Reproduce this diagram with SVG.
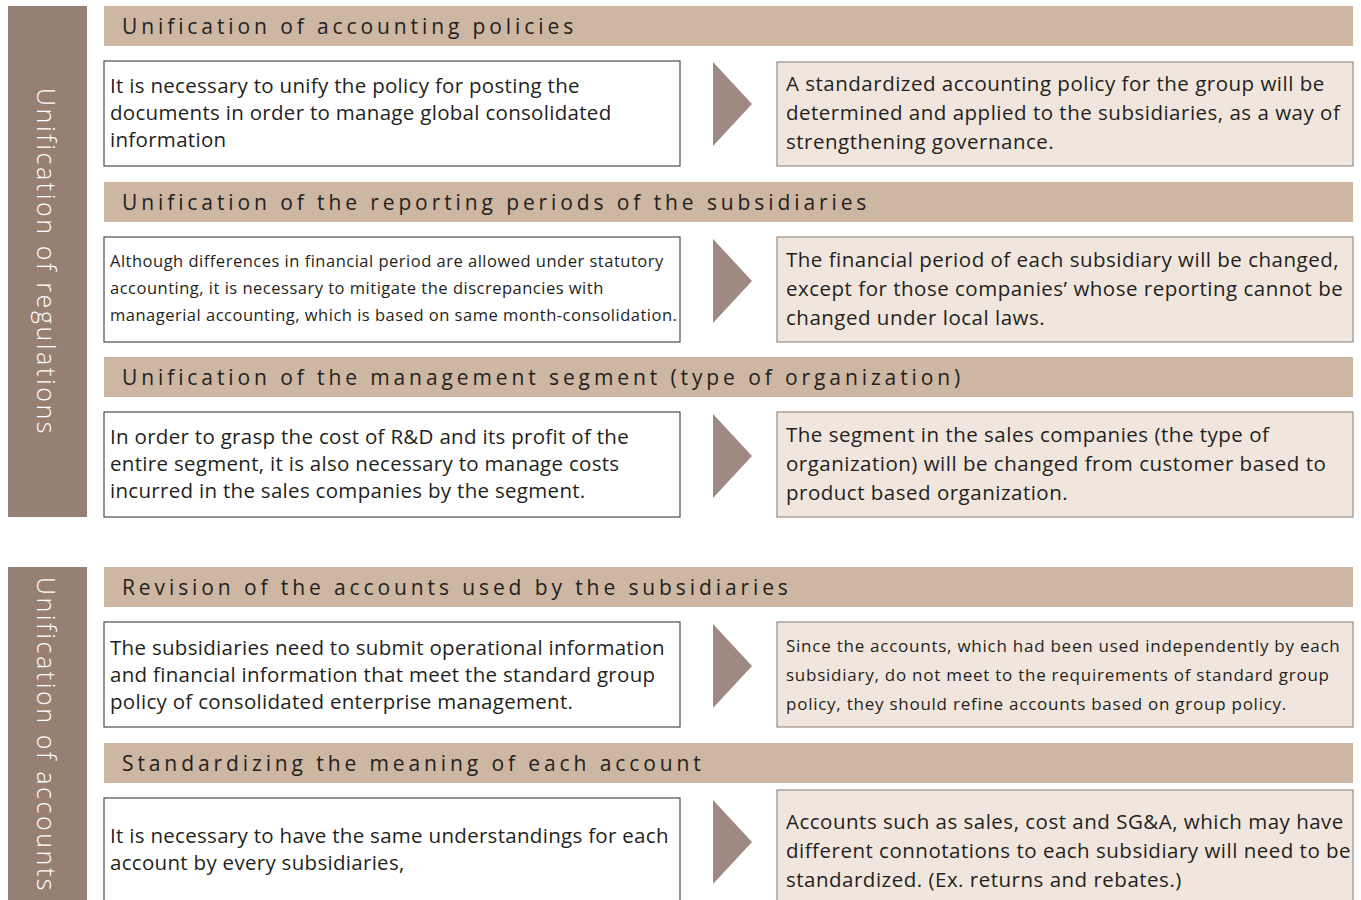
<svg xmlns="http://www.w3.org/2000/svg" width="1361" height="900" viewBox="0 0 1361 900">
<style>
.side{fill:#968074}
.sidet{fill:#ffffff;font-family:"Open Sans","Noto Sans",sans-serif;font-weight:300;font-size:25px;letter-spacing:2.6px}
.hdr{fill:#cdb6a2}
.hdrt{fill:#231f20;font-family:"Open Sans","Noto Sans",sans-serif;font-size:21px;letter-spacing:3.9px}
.lbox{fill:#ffffff;stroke:#4d4d4d;stroke-width:1.2}
.rbox{fill:#f1e6dd;stroke:#9a8c84;stroke-width:1.2}
.t{fill:#231f20;font-family:"Open Sans","Noto Sans",sans-serif;font-size:20.5px;letter-spacing:0.5px}
.tl{fill:#231f20;font-family:"Open Sans","Noto Sans",sans-serif;font-size:20.5px;letter-spacing:0.3px}
.ts{fill:#231f20;font-family:"Open Sans","Noto Sans",sans-serif;font-size:16.5px;letter-spacing:0.5px}
.ts2{fill:#231f20;font-family:"Open Sans","Noto Sans",sans-serif;font-size:17px;letter-spacing:0.75px}
.arr{fill:#9e8a80}
</style>
<rect width="1361" height="900" fill="#ffffff"/>
<g id="side1"><rect class="side" x="8" y="6" width="79" height="511"/><text class="sidet" transform="translate(37,262) rotate(90)" text-anchor="middle">Unification of regulations</text></g>
<g id="side2"><rect class="side" x="8" y="567" width="79" height="340"/><text class="sidet" transform="translate(37,735) rotate(90)" text-anchor="middle">Unification of accounts</text></g>

<g id="h1"><rect class="hdr" x="104" y="6" width="1249" height="40"/><text class="hdrt" x="122" y="34">Unification of accounting policies</text></g>
<g id="l1"><rect class="lbox" x="104" y="61" width="576" height="105"/><text class="tl"><tspan x="110" y="93">It is necessary to unify the policy for posting the</tspan><tspan x="110" y="120">documents in order to manage global consolidated</tspan><tspan x="110" y="147">information</tspan></text></g>
<g id="r1"><rect class="rbox" x="777" y="62" width="576" height="104"/><text class="t"><tspan x="786" y="91">A standardized accounting policy for the group will be</tspan><tspan x="786" y="120">determined and applied to the subsidiaries, as a way of</tspan><tspan x="786" y="149">strengthening governance.</tspan></text></g>

<g id="h2"><rect class="hdr" x="104" y="182" width="1249" height="40"/><text class="hdrt" x="122" y="210">Unification of the reporting periods of the subsidiaries</text></g>
<g id="l2"><rect class="lbox" x="104" y="237" width="576" height="105"/><text class="ts"><tspan x="110" y="267">Although differences in financial period are allowed under statutory</tspan><tspan x="110" y="294">accounting, it is necessary to mitigate the discrepancies with</tspan><tspan x="110" y="321">managerial accounting, which is based on same month-consolidation.</tspan></text></g>
<g id="r2"><rect class="rbox" x="777" y="237" width="576" height="105"/><text class="t"><tspan x="786" y="267">The financial period of each subsidiary will be changed,</tspan><tspan x="786" y="296">except for those companies’ whose reporting cannot be</tspan><tspan x="786" y="325">changed under local laws.</tspan></text></g>

<g id="h3"><rect class="hdr" x="104" y="357" width="1249" height="40"/><text class="hdrt" x="122" y="385">Unification of the management segment (type of organization)</text></g>
<g id="l3"><rect class="lbox" x="104" y="412" width="576" height="105"/><text class="tl"><tspan x="110" y="444">In order to grasp the cost of R&amp;D and its profit of the</tspan><tspan x="110" y="471">entire segment, it is also necessary to manage costs</tspan><tspan x="110" y="498">incurred in the sales companies by the segment.</tspan></text></g>
<g id="r3"><rect class="rbox" x="777" y="412" width="576" height="105"/><text class="t"><tspan x="786" y="442">The segment in the sales companies (the type of</tspan><tspan x="786" y="471">organization) will be changed from customer based to</tspan><tspan x="786" y="500">product based organization.</tspan></text></g>

<g id="h4"><rect class="hdr" x="104" y="567" width="1249" height="40"/><text class="hdrt" x="122" y="595">Revision of the accounts used by the subsidiaries</text></g>
<g id="l4"><rect class="lbox" x="104" y="622" width="576" height="105"/><text class="tl"><tspan x="110" y="655">The subsidiaries need to submit operational information</tspan><tspan x="110" y="682">and financial information that meet the standard group</tspan><tspan x="110" y="709">policy of consolidated enterprise management.</tspan></text></g>
<g id="r4"><rect class="rbox" x="777" y="622" width="576" height="105"/><text class="ts2"><tspan x="786" y="652">Since the accounts, which had been used independently by each</tspan><tspan x="786" y="681">subsidiary, do not meet to the requirements of standard group</tspan><tspan x="786" y="710">policy, they should refine accounts based on group policy.</tspan></text></g>

<g id="h5"><rect class="hdr" x="104" y="743" width="1249" height="40"/><text class="hdrt" x="122" y="771">Standardizing the meaning of each account</text></g>
<g id="l5"><rect class="lbox" x="104" y="798" width="576" height="110"/><text class="tl"><tspan x="110" y="843">It is necessary to have the same understandings for each</tspan><tspan x="110" y="870">account by every subsidiaries,</tspan></text></g>
<g id="r5"><rect class="rbox" x="777" y="790" width="576" height="118"/><text class="t"><tspan x="786" y="829">Accounts such as sales, cost and SG&amp;A, which may have</tspan><tspan x="786" y="858">different connotations to each subsidiary will need to be</tspan><tspan x="786" y="887">standardized. (Ex. returns and rebates.)</tspan></text></g>

<g id="connectors">
<polygon class="arr" points="713,62 752,104 713,146"/>
<polygon class="arr" points="713,239 752,281 713,323"/>
<polygon class="arr" points="713,414 752,456 713,498"/>
<polygon class="arr" points="713,624 752,666 713,708"/>
<polygon class="arr" points="713,800 752,842 713,884"/>
</g>
</svg>
